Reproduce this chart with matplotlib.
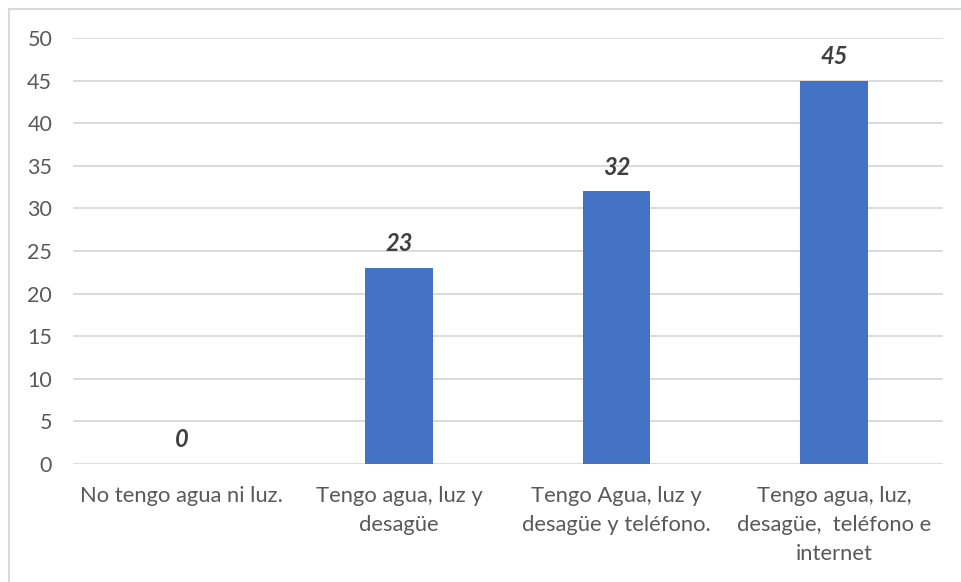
import matplotlib.pyplot as plt
from matplotlib.patches import Rectangle
import numpy as np

# Data
categories = [
    "No tengo agua ni luz.",
    "Tengo agua, luz y\ndesagüe",
    "Tengo Agua, luz y\ndesagüe y teléfono.",
    "Tengo agua, luz,\ndesagüe,  teléfono e\ninternet",
]
values = [0, 23, 32, 45]
y_ticks = [0, 5, 10, 15, 20, 25, 30, 35, 40, 45, 50]

plt.rcParams['font.family'] = ['Lato', 'DejaVu Sans']

fig = plt.figure(figsize=(9.61, 5.82), dpi=100, facecolor='white')
ax = fig.add_axes([0.076, 0.2027, 0.905, 0.732])

x = np.arange(len(categories))
ax.bar(x, values, width=0.31, color='#4472C4', zorder=3)

for xi, v in zip(x, values):
    ax.text(xi, v + 1.5, str(v), ha='center', va='bottom',
            fontsize=17, fontweight='bold', fontstyle='italic', color='#404040')

ax.set_xlim(-0.5, len(categories) - 0.5)
ax.set_ylim(0, 50)
ax.set_yticks(y_ticks)
ax.set_yticklabels([str(t) for t in y_ticks], fontsize=15.5, color='#595959')
ax.set_xticks(x)
ax.set_xticklabels(categories, fontsize=15.8, color='#595959', linespacing=1.56)
ax.tick_params(axis='y', length=0, pad=15)
ax.tick_params(axis='x', length=0, pad=16)

ax.grid(True, axis='y', color='#D9D9D9', linewidth=1.3, zorder=0)
ax.set_axisbelow(True)
for s in ax.spines.values():
    s.set_visible(False)

# outer chart border (only top and left visible in the crop)
fig.add_artist(Rectangle((9 / 961, -0.1), 1.2, 1 - 9 / 582 + 0.1,
                         transform=fig.transFigure, fill=False,
                         edgecolor='#D9D9D9', linewidth=1.5))

plt.savefig('out.png', dpi=100, facecolor='white')
